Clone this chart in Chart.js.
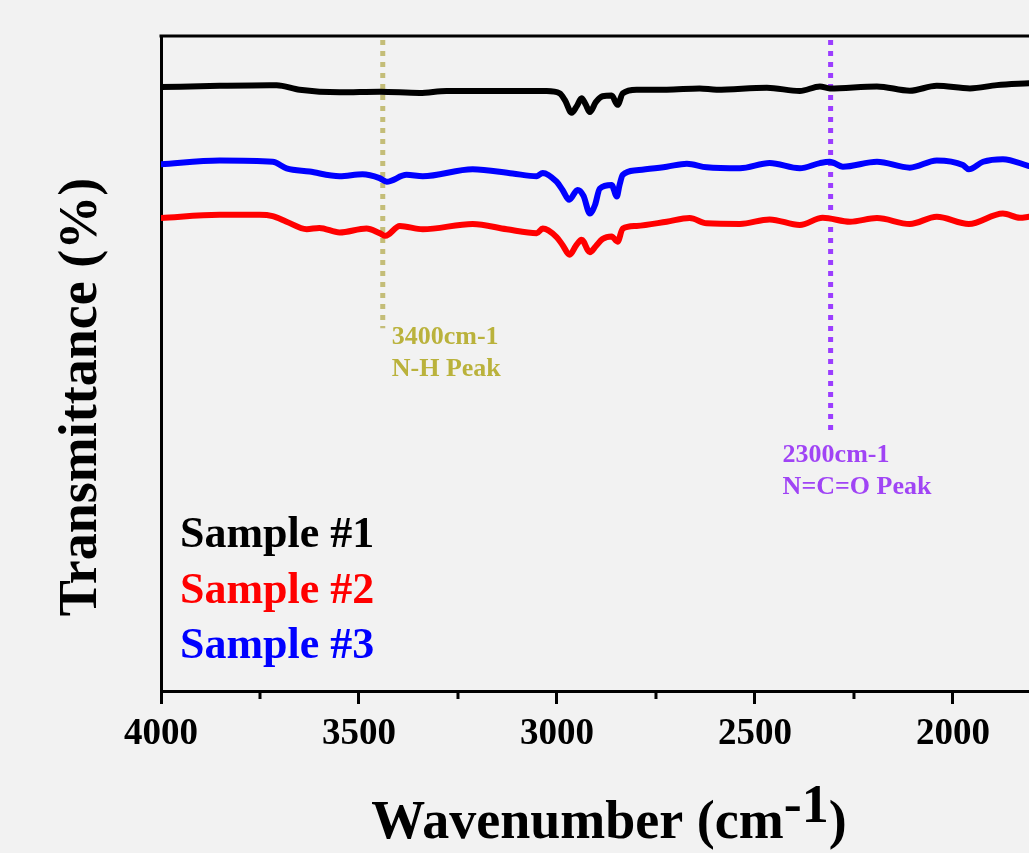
<!DOCTYPE html>
<html>
<head>
<meta charset="utf-8">
<script src="https://cdn.jsdelivr.net/npm/chart.js@4"></script>
<style>
  html, body { margin: 0; padding: 0; background: #f2f2f2; }
  #wrap { width: 1029px; height: 853px; }
</style>
</head>
<body>
<div id="wrap"><canvas id="grafica" width="1029" height="853"></canvas></div>
<script>
// Wavenumber (cm-1) and transmittance (arbitrary, offset)
const wave1 = [4000, 3852, 3726, 3708, 3650, 3549, 3448, 3347, 3279, 3145, 3026, 2993, 2980, 2963, 2950, 2938, 2928, 2917, 2902, 2885, 2862, 2847, 2834, 2799, 2723, 2640, 2597, 2470, 2387, 2336, 2311, 2192, 2109, 2041, 1957, 1889, 1808];
const sample1 = [92.2, 92.4, 92.5, 92.5, 91.8, 91.4, 91.5, 91.3, 91.6, 91.6, 91.6, 91.25, 90.2, 88.3, 89.3, 90.5, 89.6, 88.4, 89.9, 90.8, 90.9, 89.5, 91.25, 91.8, 91.8, 92.0, 91.8, 92.1, 91.6, 92.3, 92.0, 92.3, 91.65, 92.4, 92.0, 92.5, 92.8];

const wave2 = [4000, 3852, 3751, 3718, 3683, 3632, 3600, 3549, 3481, 3448, 3433, 3397, 3339, 3213, 3127, 3051, 3036, 3001, 2986, 2968, 2952, 2938, 2917, 2902, 2885, 2862, 2847, 2834, 2799, 2723, 2665, 2622, 2538, 2463, 2387, 2329, 2260, 2192, 2109, 2041, 1960, 1874, 1831, 1808];
const sample2 = [72.2, 72.7, 72.7, 72.5, 71.65, 70.5, 70.7, 70.0, 70.6, 69.9, 69.5, 71.0, 70.5, 71.3, 70.5, 69.9, 70.6, 69.3, 68.1, 66.6, 68.0, 68.9, 67.0, 67.9, 69.0, 69.4, 68.6, 70.6, 71.0, 71.65, 72.2, 71.4, 71.3, 72.0, 71.15, 72.25, 71.65, 72.2, 71.3, 72.4, 71.3, 72.9, 72.25, 72.4];

const wave3 = [4000, 3852, 3718, 3683, 3625, 3549, 3491, 3448, 3430, 3380, 3339, 3213, 3112, 3051, 3036, 3001, 2986, 2969, 2948, 2933, 2917, 2904, 2892, 2862, 2849, 2842, 2834, 2799, 2723, 2672, 2622, 2538, 2463, 2387, 2336, 2311, 2278, 2192, 2109, 2041, 1975, 1960, 1924, 1874, 1808];
const sample3 = [80.4, 81.0, 80.8, 79.8, 79.3, 78.6, 78.9, 78.3, 77.75, 78.8, 78.6, 79.65, 79.0, 78.6, 79.1, 77.75, 76.5, 75.0, 76.5, 75.6, 72.9, 74.2, 76.7, 77.25, 75.5, 77.25, 78.8, 79.5, 80.05, 80.5, 79.95, 79.8, 80.6, 79.8, 80.6, 80.8, 80.05, 80.8, 79.9, 81.0, 80.3, 79.65, 80.8, 81.2, 80.15];

// Peak markers: wavenumber, top and bottom of the dotted line
const peakWave = [3440, 2309];
const peakTop = [99.4, 99.4];
const peakBottom = [55.4, 39.1];
const peakText = [['3400cm-1', 'N-H Peak'], ['2300cm-1', 'N=C=O Peak']];

const seriesNames = ['Sample #1', 'Sample #2', 'Sample #3'];
const majorTicks = [2000, 2500, 3000, 3500, 4000];
const minorTicks = [2250, 2750, 3250, 3750];

const FONT = '"Liberation Serif", "Times New Roman", serif';
const colores = ['#000000', '#ff0000', '#0000ff'];
const peakLineColors = ['#c4bd78', '#9b3dff'];
const peakTextColors = ['#bab23c', '#a044f5'];

function toPoints(xs, ys) {
  return xs.map((w, i) => ({ x: w, y: ys[i] }));
}

function serie(i, xs, ys) {
  return {
    label: seriesNames[i],
    data: toPoints(xs, ys),
    borderColor: colores[i],
    borderWidth: 6,
    pointRadius: 0,
    cubicInterpolationMode: 'monotone',
    borderJoinStyle: 'round',
    borderCapStyle: 'round',
  };
}

function peakLine(i) {
  return {
    label: 'peak' + i,
    data: [{ x: peakWave[i], y: peakTop[i] }, { x: peakWave[i], y: peakBottom[i] }],
    borderColor: peakLineColors[i],
    borderWidth: 5,
    borderDash: [5, 6],
    pointRadius: 0,
  };
}

// Frame, minor ticks, legend, peak labels and axis titles
const decor = {
  id: 'decor',
  beforeDraw(chart) {
    const ctx = chart.ctx;
    ctx.save();
    ctx.fillStyle = '#f2f2f2';
    ctx.fillRect(0, 0, chart.width, chart.height);
    ctx.restore();
  },
  afterDraw(chart) {
    const { ctx, chartArea: a, scales: { x, y } } = chart;
    ctx.save();
    ctx.strokeStyle = '#000';
    ctx.lineWidth = 3;
    ctx.beginPath();
    ctx.moveTo(a.left - 1.5, a.top);
    ctx.lineTo(a.right, a.top);
    ctx.stroke();

    minorTicks.forEach(v => {
      const px = x.getPixelForValue(v);
      ctx.beginPath();
      ctx.moveTo(px, a.bottom);
      ctx.lineTo(px, a.bottom + 8);
      ctx.stroke();
    });

    // legend
    ctx.font = 'bold 44px ' + FONT;
    ctx.textAlign = 'left';
    ctx.textBaseline = 'alphabetic';
    seriesNames.forEach((n, i) => {
      ctx.fillStyle = colores[i];
      ctx.fillText(n, a.left + 19, 547 + i * 55.5);
    });

    // peak labels
    ctx.font = 'bold 26px ' + FONT;
    peakText.forEach((lines, i) => {
      const px = x.getPixelForValue(peakWave[i]);
      const py = y.getPixelForValue(peakBottom[i]);
      const dx = i === 0 ? 9 : -48;
      const dy = i === 0 ? 16 : 27;
      ctx.fillStyle = peakTextColors[i];
      lines.forEach((t, k) => ctx.fillText(t, px + dx, py + dy + k * 32));
    });

    // y title
    ctx.fillStyle = '#000';
    ctx.save();
    ctx.font = 'bold 54px ' + FONT;
    ctx.translate(96, 397);
    ctx.rotate(-Math.PI / 2);
    ctx.textAlign = 'center';
    ctx.fillText('Transmittance (%)', 0, 0);
    ctx.restore();

    // x title with superscript
    ctx.font = 'bold 54px ' + FONT;
    const p1 = 'Wavenumber (cm', sup = '-1', p3 = ')';
    const w1 = ctx.measureText(p1).width;
    const w2 = ctx.measureText(sup).width;
    const w3 = ctx.measureText(p3).width;
    let sx = 609 - (w1 + w2 + w3) / 2;
    ctx.fillText(p1, sx, 838);
    ctx.fillText(sup, sx + w1, 822);
    ctx.fillText(p3, sx + w1 + w2, 838);
    ctx.restore();
  }
};

const $grafica = document.getElementById('grafica');
const chart = new Chart($grafica, {
  type: 'line',
  data: {
    datasets: [
      serie(0, wave1, sample1),
      serie(1, wave2, sample2),
      serie(2, wave3, sample3),
      peakLine(0),
      peakLine(1),
    ]
  },
  options: {
    responsive: false,
    animation: false,
    devicePixelRatio: 1,
    layout: { padding: { top: 36, right: 0, bottom: 0, left: 0 } },
    plugins: { legend: { display: false }, tooltip: { enabled: false } },
    scales: {
      x: {
        type: 'linear',
        position: 'bottom',
        reverse: true,
        min: 1808,
        max: 4000,
        afterBuildTicks: s => { s.ticks = majorTicks.map(v => ({ value: v })); },
        afterFit: s => { s.height = 162; },
        grid: { drawOnChartArea: false, drawTicks: true, tickLength: 13, tickWidth: 3, tickColor: '#000' },
        border: { display: true, width: 3, color: '#000' },
        ticks: {
          color: '#000',
          font: { family: FONT, size: 37, weight: 'bold' },
          padding: 8,
          maxRotation: 0,
          autoSkip: false,
          callback: v => String(v),
        },
      },
      y: {
        min: 0,
        max: 100,
        afterFit: s => { s.width = 161; },
        grid: { display: false },
        border: { display: true, width: 3, color: '#000' },
        ticks: { display: false },
      }
    }
  },
  plugins: [decor]
});
</script>
</body>
</html>
